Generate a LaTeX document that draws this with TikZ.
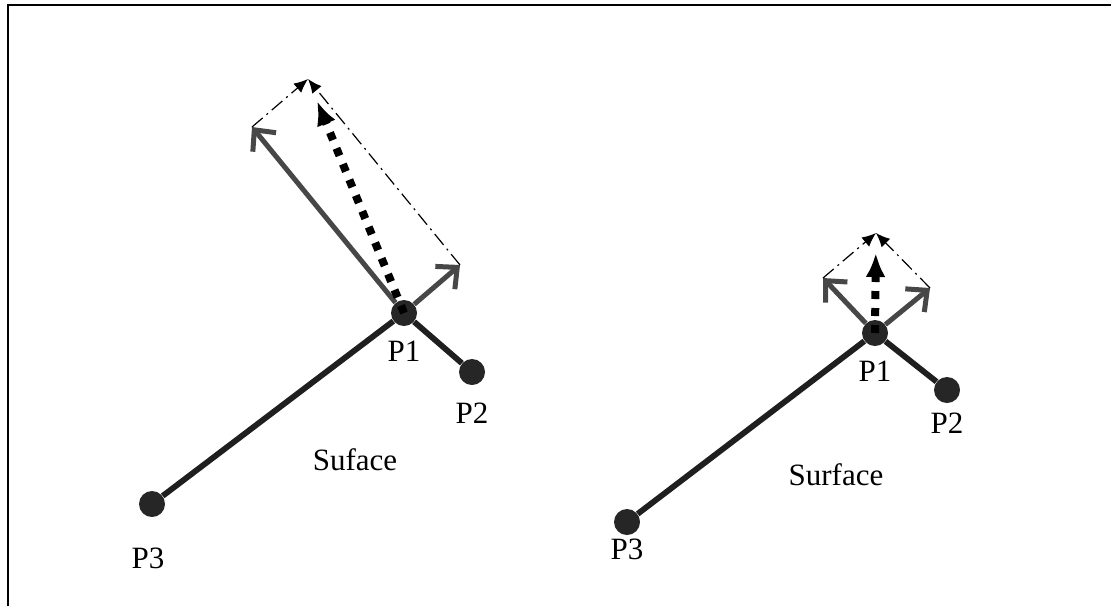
\documentclass[tikz,border=0pt]{standalone}
\usepackage{fontspec}
\setmainfont{Liberation Serif}
\usetikzlibrary{arrows.meta, positioning}

\tikzset{
  dot/.style={circle, fill=black!85, minimum size=13pt, inner sep=0pt},
  lbl/.style={inner sep=0pt, font=\fontsize{15.5}{18}\selectfont},
  surfline/.style={line width=2.9pt, black!88},
  normal/.style={line width=2.5pt, black!72, -{Straight Barb[length=8pt, width=15pt]}},
  sumline/.style={line width=4pt, dash pattern=on 4pt off 4.5pt, -{Latex[length=12pt, width=10pt]}, shorten >=12pt},
  projline/.style={line width=0.6pt, dash pattern=on 7pt off 2.5pt on 1pt off 2.5pt, -{Latex[length=7pt, width=6pt]}}
}

\begin{document}
\begin{tikzpicture}[x=0.5pt, y=-0.5pt, on grid]
        \useasboundingbox (0,0) rectangle (1111,606);
        \draw[line width=1pt] (7.5,606) -- (7.5,5) -- (1111,5);

        % left: long normal
        \node[dot] (p1) at (404,313) {};
        \node[dot] (p2) at (472,372) {};
        \node[dot] (p3) at (152,504) {};
        \coordinate (pa) at (252,127);
        \coordinate (pb) at (460,265);
        \coordinate (ps) at (308,79);

        \node[lbl, below=19pt of p1] (l1) {P1};
        \node[lbl, below=20.5pt of p2] (l2) {P2};
        \node[lbl, below=27pt of p3, xshift=-2pt] (l3) {P3};
        \node[lbl] (ls) at (355,460) {Suface};

        \draw[surfline] (p1) -- (p2);
        \draw[surfline] (p1) -- (p3);
        \draw[normal] (p1) -- (pa);
        \draw[normal] (p1) -- (pb);
        \draw[projline] (pa) -- (ps);
        \draw[projline] (pb) -- (ps);
        \draw[sumline] (p1.center) -- (ps);

        % right: short normal
        \node[dot] (r1) at (875,333) {};
        \node[dot] (r2) at (947,390) {};
        \node[dot] (r3) at (627,522) {};
        \coordinate (ra) at (823,278);
        \coordinate (rb) at (930,288);
        \coordinate (rs) at (876,233);

        \node[lbl, below=19pt of r1] (m1) {P1};
        \node[lbl, below=16.5pt of r2] (m2) {P2};
        \node[lbl, below=13.5pt of r3] (m3) {P3};
        \node[lbl] (ms) at (836,475) {Surface};

        \draw[surfline] (r1) -- (r2);
        \draw[surfline] (r1) -- (r3);
        \draw[normal] (r1) -- (ra);
        \draw[normal] (r1) -- (rb);
        \draw[projline] (ra) -- (rs);
        \draw[projline] (rb) -- (rs);
        \draw[sumline, shorten >=10pt] (r1.center) -- (rs);

    \end{tikzpicture}
\end{document}
